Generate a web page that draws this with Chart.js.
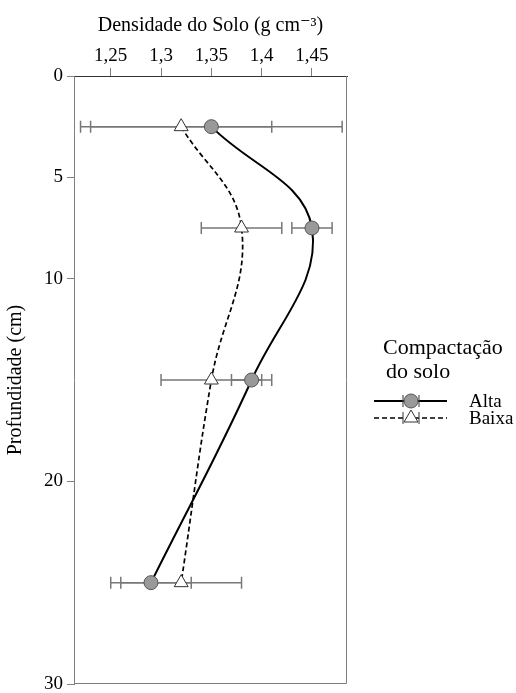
<!DOCTYPE html>
<html>
<head>
<meta charset="utf-8">
<script src="https://cdn.jsdelivr.net/npm/chart.js@4.4.0/dist/chart.umd.min.js"></script>
<style>
    html, body { margin: 0; padding: 0; background: #fff; }
    #wrap { width: 516px; height: 693px; position: relative; }
</style>
</head>
<body>
<div id="wrap"><canvas id="soilChart"></canvas></div>
<script>
// Soil density profile (depth in cm, density in g cm-3)
const depthCm = [2.5, 7.5, 15, 25];
const altaDensity = [1.35, 1.45, 1.39, 1.29];
const altaError = [0.13, 0.02, 0.02, 0.04];
const baixaDensity = [1.32, 1.38, 1.35, 1.32];
const baixaError = [0.09, 0.04, 0.05, 0.06];
const densityTicks = [1.25, 1.3, 1.35, 1.4, 1.45];
const depthTicks = [0, 5, 10, 20, 30];
const seriesLabels = ['Alta', 'Baixa'];
const legendTitle = ['Compactação', 'do solo'];

const serif = '"Liberation Serif", "DejaVu Serif", serif';
const frameGray = '#808080';
const errorGray = '#777777';

Chart.defaults.font.family = serif;
Chart.defaults.color = '#000';

function toPoints(values) {
    return values.map((v, i) => ({ x: v, y: depthCm[i] }));
}

// Horizontal error bars + right/bottom frame lines
const errorBarPlugin = {
    id: 'errorBars',
    beforeDatasetsDraw(chart) {
        const { ctx, chartArea, scales: { x, y } } = chart;
        ctx.save();
        ctx.strokeStyle = frameGray;
        ctx.lineWidth = 1;
        ctx.beginPath();
        ctx.moveTo(chartArea.right - 0.5, chartArea.top);
        ctx.lineTo(chartArea.right - 0.5, chartArea.bottom - 0.5);
        ctx.lineTo(chartArea.left, chartArea.bottom - 0.5);
        ctx.stroke();

        ctx.strokeStyle = errorGray;
        ctx.lineWidth = 1.5;
        chart.data.datasets.forEach(ds => {
            ds.data.forEach((pt, i) => {
                const err = ds.errors[i];
                const py = y.getPixelForValue(pt.y);
                const x0 = x.getPixelForValue(pt.x - err);
                const x1 = x.getPixelForValue(pt.x + err);
                ctx.beginPath();
                ctx.moveTo(x0, py); ctx.lineTo(x1, py);
                ctx.moveTo(x0, py - 6); ctx.lineTo(x0, py + 6);
                ctx.moveTo(x1, py - 6); ctx.lineTo(x1, py + 6);
                ctx.stroke();
            });
        });
        ctx.restore();
    }
};

// Legend on the right: title, sample line with error caps and marker
const legendPlugin = {
    id: 'profileLegend',
    afterDraw(chart) {
        const { ctx, chartArea } = chart;
        const lx = chartArea.right + 36;
        ctx.save();
        ctx.fillStyle = '#000';
        ctx.textBaseline = 'alphabetic';
        ctx.font = `22px ${serif}`;
        ctx.fillText(legendTitle[0], lx, 354);
        ctx.fillText(legendTitle[1], lx + 3, 378);

        chart.data.datasets.forEach((ds, i) => {
            const rowY = 401 + i * 17;
            const sx0 = chartArea.right + 27, sx1 = chartArea.right + 100, mx = chartArea.right + 64;
            ctx.strokeStyle = ds.borderColor;
            ctx.lineWidth = ds.borderWidth;
            ctx.setLineDash(ds.borderDash || []);
            ctx.beginPath();
            ctx.moveTo(sx0, rowY); ctx.lineTo(sx1, rowY);
            ctx.stroke();
            ctx.setLineDash([]);

            ctx.strokeStyle = '#333';
            ctx.lineWidth = 1;
            ctx.beginPath();
            ctx.moveTo(mx - 8, rowY - 6); ctx.lineTo(mx - 8, rowY + 6);
            ctx.moveTo(mx + 8, rowY - 6); ctx.lineTo(mx + 8, rowY + 6);
            ctx.stroke();

            ctx.fillStyle = ds.pointBackgroundColor;
            ctx.strokeStyle = ds.pointBorderColor;
            ctx.lineWidth = ds.pointBorderWidth;
            Chart.helpers.drawPoint(ctx, {
                pointStyle: ds.pointStyle, rotation: 0,
                radius: ds.pointRadius, borderWidth: ds.pointBorderWidth
            }, mx, rowY);

            ctx.fillStyle = '#000';
            ctx.font = `19px ${serif}`;
            ctx.fillText(ds.label, chartArea.right + 122, rowY + 6);
        });
        ctx.restore();
    }
};

const ctx = document.getElementById('soilChart').getContext('2d');
new Chart(ctx, {
    type: 'scatter',
    data: {
        datasets: [
            {
                label: seriesLabels[0],
                data: toPoints(altaDensity),
                errors: altaError,
                showLine: true,
                borderColor: '#000',
                borderWidth: 2,
                tension: 0.4,
                pointStyle: 'circle',
                pointRadius: 7,
                pointBackgroundColor: '#999999',
                pointBorderColor: '#555555',
                pointBorderWidth: 1
            },
            {
                label: seriesLabels[1],
                data: toPoints(baixaDensity),
                errors: baixaError,
                showLine: true,
                borderColor: '#000',
                borderWidth: 1.7,
                borderDash: [5, 3],
                tension: 0.4,
                pointStyle: 'triangle',
                pointRadius: 8,
                pointBackgroundColor: '#ffffff',
                pointBorderColor: '#333333',
                pointBorderWidth: 1
            }
        ]
    },
    options: {
        responsive: true,
        maintainAspectRatio: false,
        animation: false,
        layout: { padding: { left: 0, top: 0, right: 169, bottom: 5 } },
        plugins: { legend: { display: false }, tooltip: { enabled: false } },
        scales: {
            x: {
                type: 'linear',
                position: 'top',
                min: 1.2135,
                max: 1.4848,
                afterBuildTicks: s => { s.ticks = densityTicks.map(v => ({ value: v })); },
                afterFit: s => { s.height = 76; s.paddingLeft = 0; s.paddingRight = 0; },
                ticks: {
                    font: { size: 19 },
                    color: '#000',
                    padding: 1,
                    maxRotation: 0,
                    autoSkip: false,
                    callback: v => String(v).replace('.', ',')
                },
                grid: { drawOnChartArea: false, drawTicks: true, tickLength: 8, color: frameGray },
                border: { display: true, color: '#333', width: 1 },
                title: {
                    display: true,
                    text: 'Densidade do Solo (g cm⁻³)',
                    font: { size: 20 },
                    color: '#000',
                    padding: { top: 14, bottom: 0 }
                }
            },
            y: {
                type: 'linear',
                reverse: true,
                min: 0,
                max: 30,
                afterBuildTicks: s => { s.ticks = depthTicks.map(v => ({ value: v })); },
                afterFit: s => { s.width = 74; s.paddingTop = 0; s.paddingBottom = 0; },
                ticks: { font: { size: 19 }, color: '#000', padding: 4, autoSkip: false },
                grid: { drawOnChartArea: false, drawTicks: true, tickLength: 7, color: frameGray },
                border: { display: true, color: frameGray, width: 1 },
                title: {
                    display: true,
                    text: 'Profundidade (cm)',
                    font: { size: 20 },
                    color: '#000',
                    padding: { top: 4, bottom: 0 }
                }
            }
        }
    },
    plugins: [errorBarPlugin, legendPlugin]
});
</script>
</body>
</html>
